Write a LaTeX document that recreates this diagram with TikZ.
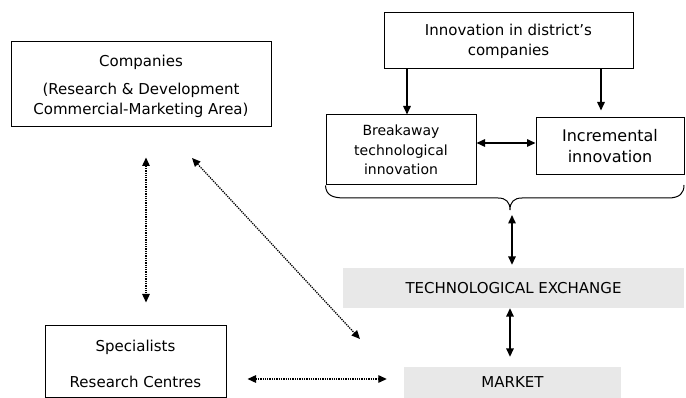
\documentclass[tikz,border=0pt]{standalone}
\usepackage{fontspec}
\setmainfont{DejaVu Sans}
\usetikzlibrary{arrows.meta}
\begin{document}
\begin{tikzpicture}[x=1pt,y=-1pt,
  every node/.style={font=\fontsize{15}{20}\selectfont, inner sep=0pt, align=center},
  box/.style={draw, line width=1pt, rectangle},
  graybox/.style={fill=black!9, rectangle},
  tri/.tip={Triangle[length=8.5pt,width=7.5pt]},
  solidarr/.style={line width=1.5pt, -tri},
  soliddbl/.style={line width=1.5pt, tri-tri},
  dotdbl/.style={line width=1.3pt, dash pattern=on 1.3pt off 1pt, tri-tri}]
\useasboundingbox (0,0) rectangle (686,398);
% boxes
\node[box, minimum width=260pt, minimum height=85pt] (comp) at (141,84.5) {};
\node (comp1) at (141,62) {Companies};
\node (comp2) at (141,100.5) {(Research \& Development\\Commercial-Marketing Area)};
\node[box, minimum width=249pt, minimum height=56pt] (innov) at (508.5,41) {Innovation in district’s\\companies};
\node[box, minimum width=150pt, minimum height=70pt, font=\fontsize{14}{19.5}\selectfont] (brk) at (401,150) {Breakaway\\technological\\innovation};
\node[box, minimum width=148pt, minimum height=57pt, font=\fontsize{16}{21}\selectfont] (inc) at (610,146.5) {Incremental\\innovation};
\node[graybox, minimum width=341pt, minimum height=40pt] (tech) at (513.5,288) {TECHNOLOGICAL EXCHANGE};
\node[graybox, minimum width=217pt, minimum height=31pt] (market) at (512.5,382.5) {MARKET};
\node[box, minimum width=181pt, minimum height=71pt] (spec) at (135.5,361.5) {};
\node (spec1) at (135.5,347) {Specialists};
\node (spec2) at (135.5,382) {Research Centres};
% brace
\coordinate (tip) at (510,210);
\draw[line width=1pt] (brk.south west) .. controls (326,195) and (332,198) .. (345,198) -- (498,198)
  .. controls (506,198) and (510,202) .. (tip)
  .. controls (510,202) and (514,198) .. (522,198) -- (668,198)
  .. controls (680,198) and (684,193) .. (684,185);
% solid arrows
\draw[solidarr] (innov.south -| 407,0) -- (brk.north -| 407,0);
\draw[solidarr, shorten >=7pt] (innov.south -| 601,0) -- (inc.north -| 601,0);
\draw[soliddbl] (brk.east |- 0,143) -- (inc.west |- 0,143);
\draw[soliddbl, shorten <=5pt, shorten >=3pt] (tip -| 512,0) -- (tech.north -| 512,0);
\draw[soliddbl, shorten >=10pt] (tech.south -| 510,0) -- (market.north -| 510,0);
% dotted arrows
\draw[dotdbl, shorten <=30pt, shorten >=23pt] (comp.south -| 146,0) -- (spec.north -| 146,0);
\coordinate (d1) at (192,158);
\coordinate (d2) at (360,339);
\draw[dotdbl] (d1) -- (d2);
\draw[dotdbl, shorten <=21pt, shorten >=17pt] (spec.east |- 0,379) -- (market.west |- 0,379);
\end{tikzpicture}
\end{document}
